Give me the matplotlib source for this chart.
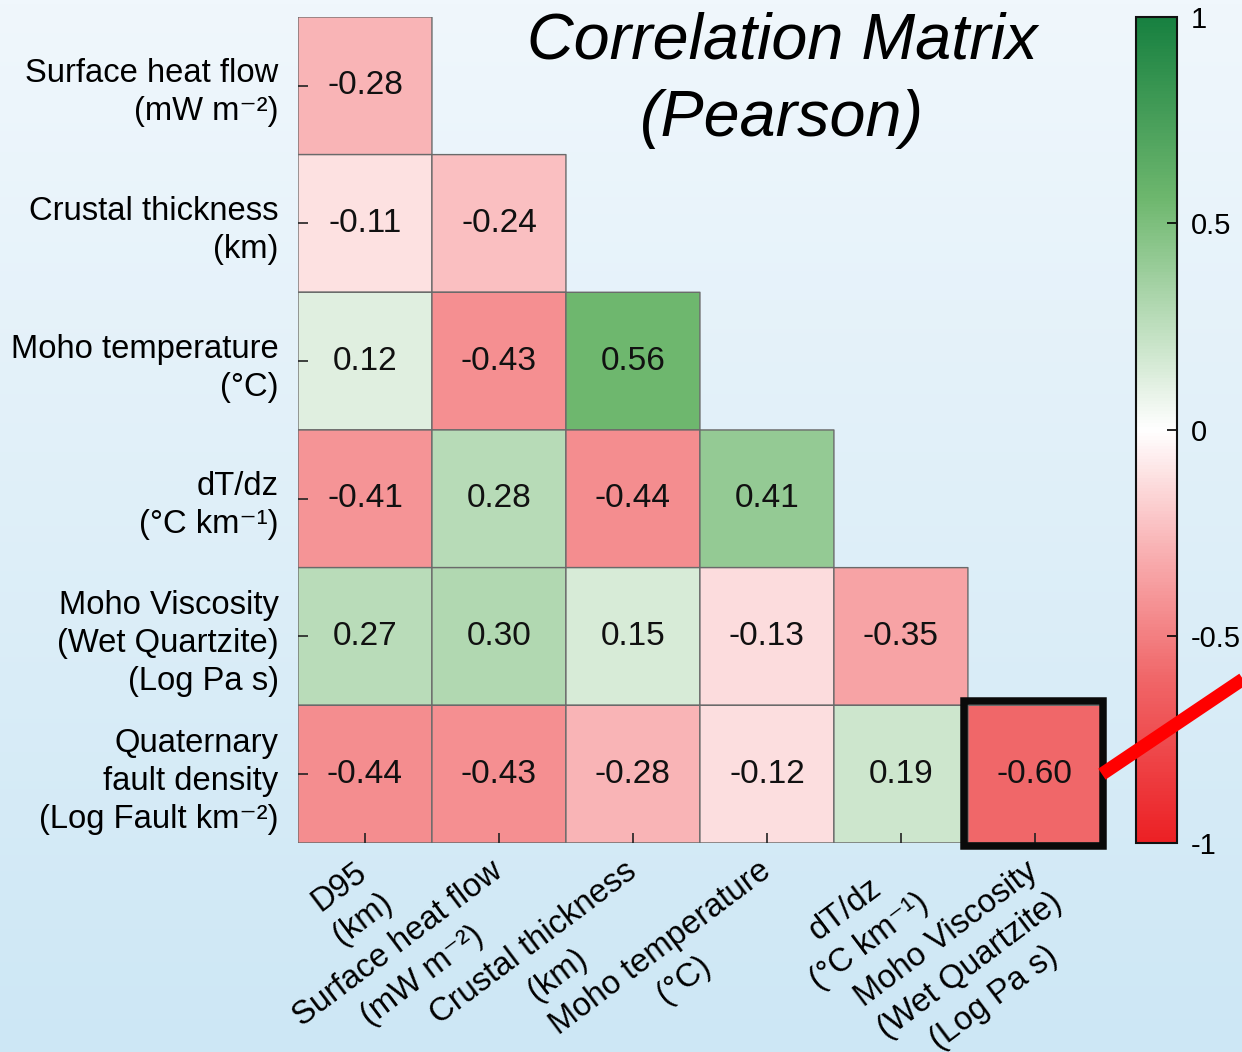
import numpy as np
import matplotlib
matplotlib.use("Agg")
from matplotlib import pyplot as plt
from matplotlib.colors import LinearSegmentedColormap
from matplotlib.patches import Rectangle
from matplotlib.lines import Line2D
from matplotlib.transforms import ScaledTranslation

plt.rcParams['font.family'] = ['Liberation Sans', 'DejaVu Sans']
plt.rcParams['axes.unicode_minus'] = False

# variable names (columns = x axis, rows = y axis)
col_labels = ["D95\n(km)",
              "Surface heat flow\n(mW m⁻²)",
              "Crustal thickness\n(km)",
              "Moho temperature\n(°C)",
              "dT/dz\n(°C km⁻¹)",
              "Moho Viscosity\n(Wet Quartzite)\n(Log Pa s)"]
row_labels = ["Surface heat flow\n(mW m⁻²)",
              "Crustal thickness\n(km)",
              "Moho temperature\n(°C)",
              "dT/dz\n(°C km⁻¹)",
              "Moho Viscosity\n(Wet Quartzite)\n(Log Pa s)",
              "Quaternary\nfault density\n(Log Fault km⁻²)"]

# lower triangle of the Pearson matrix, one list per row
r_surface = [-0.28]
r_crust = [-0.11, -0.24]
r_moho_t = [0.12, -0.43, 0.56]
r_dtdz = [-0.41, 0.28, -0.44, 0.41]
r_visc = [0.27, 0.30, 0.15, -0.13, -0.35]
r_faults = [-0.44, -0.43, -0.28, -0.12, 0.19, -0.60]
rows = [r_surface, r_crust, r_moho_t, r_dtdz, r_visc, r_faults]

highlight = (5, 5)  # (row, col)

n = len(rows)
corr = np.full((n, n), np.nan)
for i, r in enumerate(rows):
    corr[i, :len(r)] = r
corr = np.ma.masked_invalid(corr)

cmap = LinearSegmentedColormap.from_list("rwg", [
    (0.0, "#EC2024"),
    (0.2, "#F06769"),
    (0.36, "#F9B4B6"),
    (0.5, "#FFFFFF"),
    (0.78, "#6EB76E"),
    (1.0, "#178040")])

fig = plt.figure(figsize=(12.42, 10.52), dpi=100)

# soft blue backdrop
bg = fig.add_axes([0, 0, 1, 1], zorder=-5)
grad = np.linspace(0, 1, 256)[:, None]
top = np.array([240, 247, 252]) / 255
bot = np.array([205, 231, 245]) / 255
img = top[None, None, :] * (1 - grad[..., None]) + bot[None, None, :] * grad[..., None]
bg.imshow(img, aspect='auto', extent=[0, 1, 0, 1])
bg.set_axis_off()

ax = fig.add_axes([0.2399, 0.1987, 0.6473, 0.7852])
ax.patch.set_visible(False)
mesh = ax.pcolor(np.arange(n + 1), np.arange(n + 1), corr, cmap=cmap,
                 vmin=-1, vmax=1, edgecolors='#6a6a6a', linewidth=1.0)
ax.set_xlim(0, n)
ax.set_ylim(n, 0)
for s in ax.spines.values():
    s.set_visible(False)

for i in range(n):
    for j in range(n):
        if not np.ma.is_masked(corr[i, j]):
            ax.text(j + 0.5, i + 0.5, f"{corr[i, j]:.2f}", ha='center', va='center',
                    fontsize=24, color='#111111')

ax.set_xticks(np.arange(n) + 0.5)
ax.set_yticks(np.arange(n) + 0.5)
ax.tick_params(axis='both', direction='in', length=7, width=1.2, color='#222222')
ax.tick_params(axis='x', pad=9)
ax.tick_params(axis='y', pad=14)
ax.set_xticklabels(col_labels, rotation=37, ha='right', va='top',
                   rotation_mode='anchor', fontsize=23.6)
ax.set_yticklabels(row_labels, fontsize=23.6)
shift = ScaledTranslation(-9 / 100, 0, fig.dpi_scale_trans)
for lab in ax.get_xticklabels():
    lab.set_multialignment('center')
    lab.set_linespacing(1.36)
    lab.set_transform(lab.get_transform() + shift)
for lab in ax.get_yticklabels():
    lab.set_multialignment('right')
    lab.set_linespacing(1.3)

hr, hc = highlight
ax.add_patch(Rectangle((hc - 0.03, hr - 0.03), 1.04, 1.05, fill=False,
                       edgecolor='#0a0a0a', lw=5.4, zorder=5, clip_on=False))

# pointer from the highlighted cell off to the right
fig.add_artist(Line2D([hc + 1, hc + 2.4], [hr + 0.5, hr + 0.5 - 0.655 * 1.4],
                      transform=ax.transData, color='#ff0000', lw=9.5,
                      solid_capstyle='butt', zorder=10))

fig.text(0.6296, 0.9235, "Correlation Matrix\n(Pearson)", ha='center', va='center',
         fontsize=46.5, style='italic', linespacing=1.37)

cax = fig.add_axes([0.9147, 0.1987, 0.0330, 0.7852])
cb = fig.colorbar(mesh, cax=cax, ticks=[-1, -0.5, 0, 0.5, 1])
cb.ax.set_yticklabels(["-1", "-0.5", "0", "0.5", "1"])
cb.outline.set_linewidth(1.5)
cb.outline.set_edgecolor('#111111')
cax.tick_params(direction='in', length=7, width=1.2, labelsize=21, pad=10)

fig.savefig("out.png", dpi=100)
